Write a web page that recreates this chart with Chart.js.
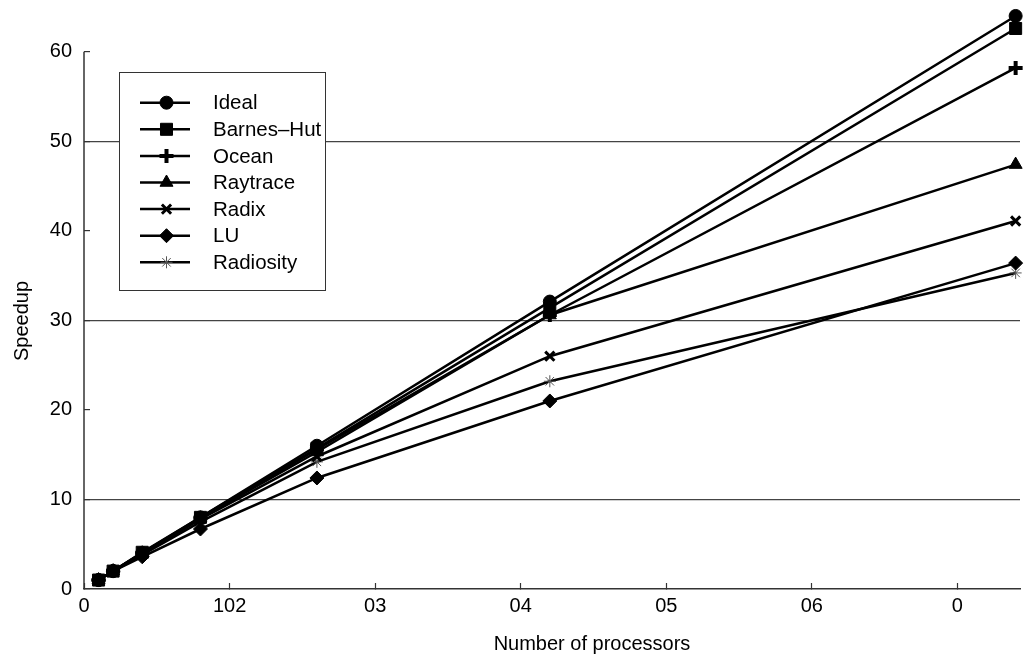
<!DOCTYPE html>
<html>
<head>
<meta charset="utf-8">
<script src="https://cdn.jsdelivr.net/npm/chart.js@4.4.0/dist/chart.umd.min.js"></script>
<style>
    html, body { margin: 0; padding: 0; background: #fff; }
    #wrap { width: 1024px; height: 654px; }
</style>
</head>
<body>
<div id="wrap"><canvas id="speedup-chart" width="1024" height="654"></canvas></div>
<script>
// values
const processors = [1, 2, 4, 8, 16, 32, 64];
const ideal      = [1, 2, 4, 8, 16, 32.1, 64];
const barnesHut  = [1, 2, 4.1, 8, 15.7, 31.4, 62.6];
const ocean      = [1, 2, 4, 7.9, 15.6, 30.6, 58.2];
const raytrace   = [1, 2, 4, 7.9, 15.3, 30.6, 47.4];
const radix      = [1, 2, 3.9, 7.8, 14.8, 26.0, 41.1];
const lu         = [1, 2, 3.6, 6.7, 12.4, 21.0, 36.4];
const radiosity  = [1, 2, 3.8, 7.5, 14.2, 23.2, 35.3];

const xTicks = [0, 10, 20, 30, 40, 50, 60];
const xTickLabels = ['0', '102', '03', '04', '05', '06', '0'];
const yTicks = [0, 10, 20, 30, 40, 50, 60];
const yGridValues = [10, 30, 50];

const FONT = '"Liberation Sans", Arial, sans-serif';

const seriesList = [
    {label: 'Ideal', values: ideal, style: 'circle', radius: 6.5, width: 1, color: '#000'},
    {label: 'Barnes\u2013Hut', values: barnesHut, style: 'rect', radius: 8.5, width: 1, color: '#000'},
    {label: 'Ocean', values: ocean, style: 'cross', radius: 7, width: 4, color: '#000'},
    {label: 'Raytrace', values: raytrace, style: 'triangle', radius: 7.5, width: 1, color: '#000'},
    {label: 'Radix', values: radix, style: 'crossRot', radius: 6.5, width: 3, color: '#000'},
    {label: 'LU', values: lu, style: 'rectRot', radius: 7, width: 1, color: '#000'},
    {label: 'Radiosity', values: radiosity, style: 'star', radius: 6, width: 1, color: '#555'},
];

const datasets = seriesList.map(s => ({
    label: s.label,
    data: processors.map((p, i) => ({x: p, y: s.values[i]})),
    borderColor: '#000',
    borderWidth: 2.5,
    backgroundColor: '#000',
    pointStyle: s.style,
    pointRadius: s.radius,
    pointHoverRadius: s.radius,
    pointBorderWidth: s.width,
    pointBorderColor: s.color,
    pointBackgroundColor: s.color,
    tension: 0,
    clip: false,
}));

const boxLegend = {
    id: 'boxLegend',
    beforeDatasetsDraw(chart) {
        // y axis line only runs up to the 60 tick
        const y = chart.scales.y;
        const ctx = chart.ctx;
        ctx.save();
        ctx.strokeStyle = '#333';
        ctx.lineWidth = 1.5;
        ctx.beginPath();
        ctx.moveTo(chart.chartArea.left, y.getPixelForValue(0));
        ctx.lineTo(chart.chartArea.left, y.getPixelForValue(60));
        ctx.stroke();
        ctx.restore();
    },
    afterDatasetsDraw(chart) {
        const ctx = chart.ctx;
        ctx.save();
        ctx.fillStyle = '#fff';
        ctx.strokeStyle = '#333';
        ctx.lineWidth = 1;
        ctx.fillRect(119.5, 72.5, 206, 218);
        ctx.strokeRect(119.5, 72.5, 206, 218);

        seriesList.forEach((s, i) => {
            const y = 102.7 + i * 26.6;
            ctx.strokeStyle = '#000';
            ctx.lineWidth = 2.5;
            ctx.beginPath();
            ctx.moveTo(140, y);
            ctx.lineTo(190, y);
            ctx.stroke();

            ctx.fillStyle = s.color;
            ctx.strokeStyle = s.color;
            ctx.lineWidth = s.width;
            Chart.helpers.drawPoint(ctx, {pointStyle: s.style, radius: s.radius, borderWidth: s.width, rotation: 0}, 166.5, y);

            ctx.fillStyle = '#000';
            ctx.font = '20.5px ' + FONT;
            ctx.textAlign = 'left';
            ctx.textBaseline = 'middle';
            ctx.fillText(s.label, 213, y + 1);
        });
        ctx.restore();
    },
    afterDraw(chart) {
        const ctx = chart.ctx;
        ctx.save();
        ctx.fillStyle = '#000';
        ctx.font = '20px ' + FONT;
        ctx.textAlign = 'center';
        ctx.textBaseline = 'alphabetic';
        ctx.fillText('Number of processors', 592, 650);

        ctx.translate(22, 321);
        ctx.rotate(-Math.PI / 2);
        ctx.textBaseline = 'middle';
        ctx.fillText('Speedup', 0, 0);
        ctx.restore();
    }
};

const chart = new Chart(document.getElementById('speedup-chart').getContext('2d'), {
    type: 'line',
    data: {datasets: datasets},
    options: {
        responsive: false,
        animation: false,
        events: [],
        layout: {
            autoPadding: false,
            padding: {top: 7, right: 4, bottom: 0, left: 0},
        },
        plugins: {
            legend: {display: false},
            tooltip: {enabled: false},
        },
        scales: {
            x: {
                type: 'linear',
                min: 0,
                max: 64.3,
                afterFit: scale => {
                    scale.height = 65;
                    scale.paddingLeft = 0;
                    scale.paddingRight = 0;
                },
                afterBuildTicks: scale => { scale.ticks = xTicks.map(v => ({value: v})); },
                ticks: {
                    color: '#000',
                    font: {family: FONT, size: 20},
                    padding: 11,
                    maxRotation: 0,
                    autoSkip: false,
                    callback: (value) => xTickLabels[xTicks.indexOf(value)],
                },
                grid: {
                    drawOnChartArea: false,
                    drawTicks: true,
                    tickLength: -6,
                    tickColor: '#333',
                    tickWidth: 1.2,
                },
                border: {color: '#333', width: 1.5},
            },
            y: {
                type: 'linear',
                min: 0,
                max: 65,
                afterFit: scale => {
                    scale.width = 84;
                    scale.paddingTop = 0;
                    scale.paddingBottom = 0;
                },
                afterBuildTicks: scale => { scale.ticks = yTicks.map(v => ({value: v})); },
                ticks: {
                    color: '#000',
                    font: {family: FONT, size: 20},
                    padding: 18,
                },
                grid: {
                    drawTicks: true,
                    tickLength: -6,
                    tickColor: '#333',
                    tickWidth: 1.2,
                    lineWidth: 1.2,
                    color: c => (c.tick && yGridValues.includes(c.tick.value)) ? '#444' : 'rgba(0,0,0,0)',
                },
                border: {display: false},
            },
        },
    },
    plugins: [boxLegend],
});
</script>
</body>
</html>
